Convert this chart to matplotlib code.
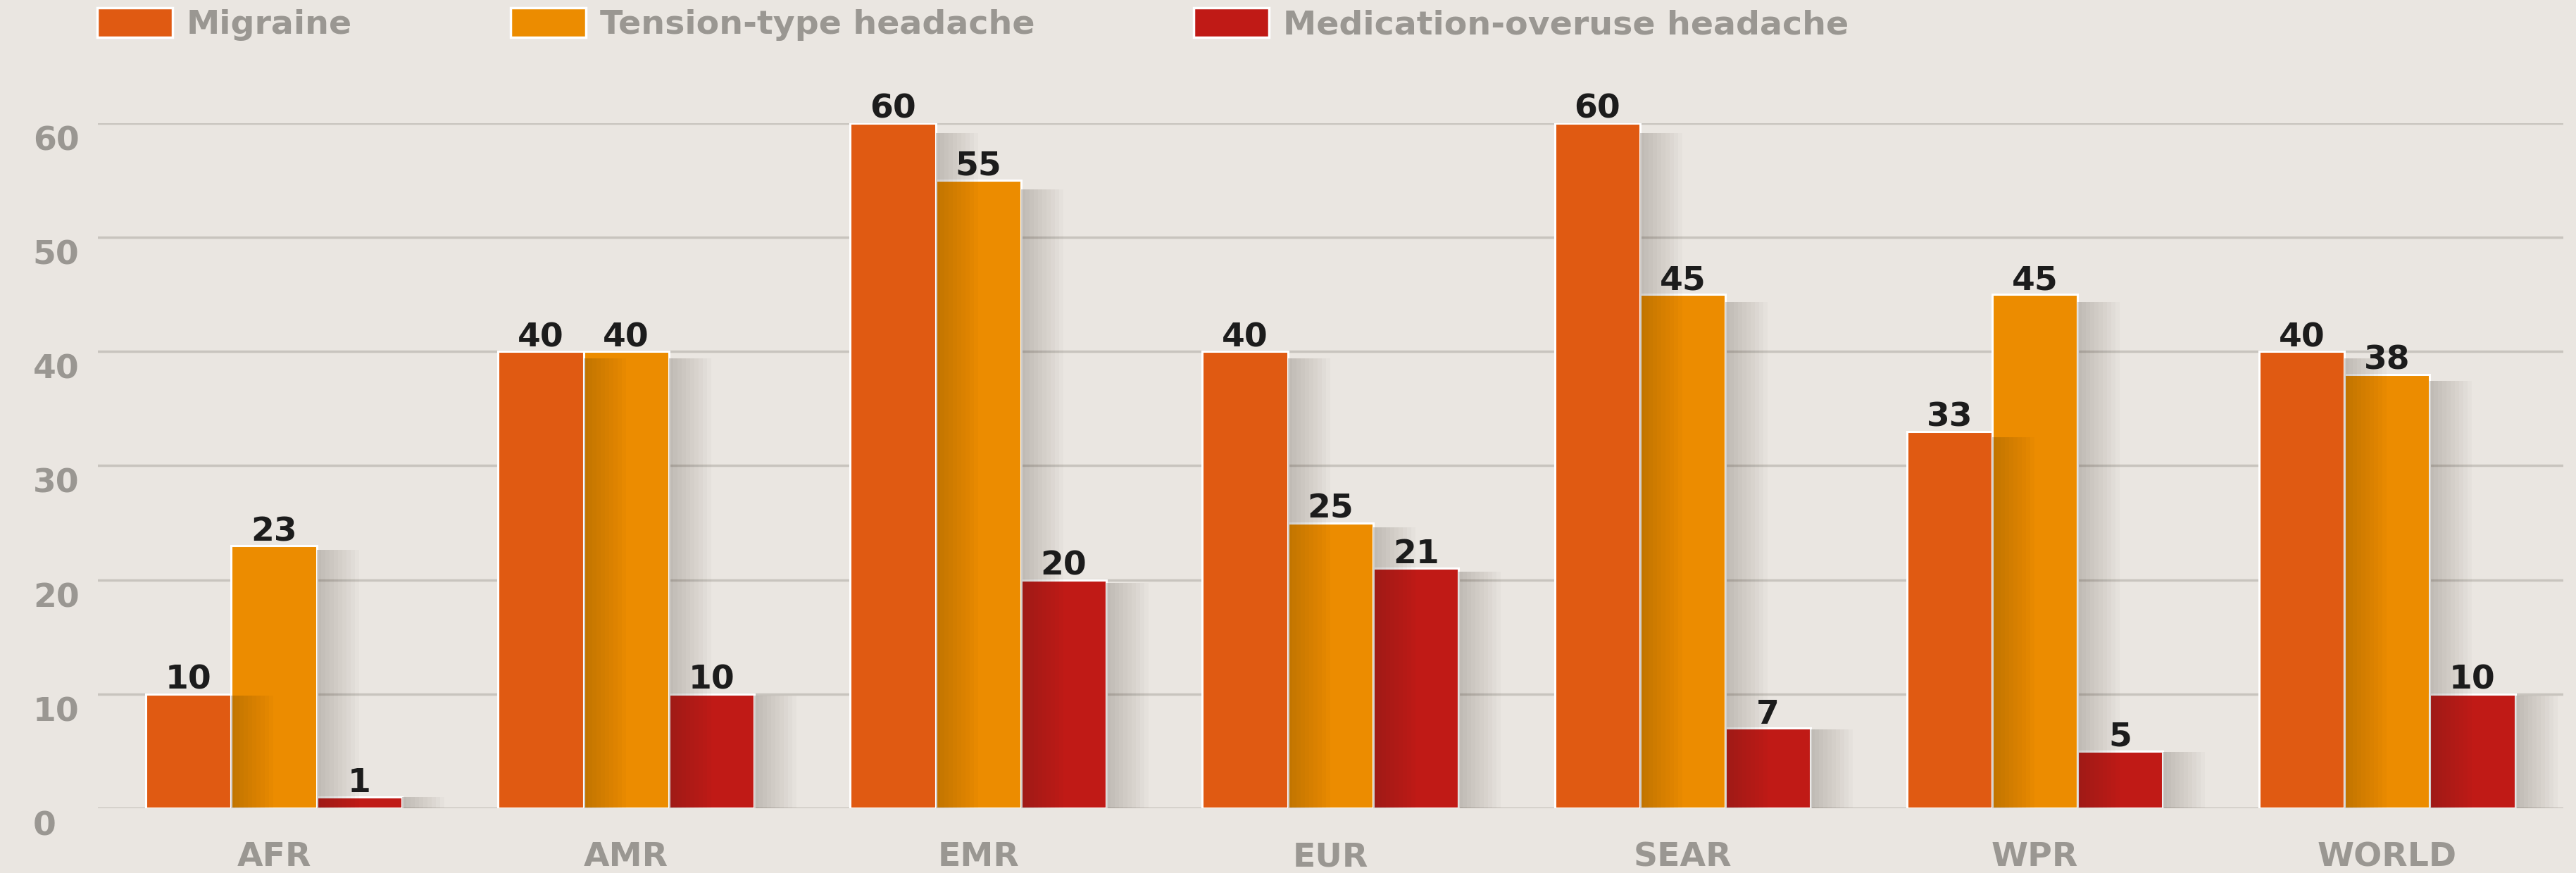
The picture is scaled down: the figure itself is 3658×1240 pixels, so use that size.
import numpy as np
import matplotlib
matplotlib.use("Agg")
import matplotlib.pyplot as plt
from matplotlib.patches import Patch, Rectangle
from matplotlib import transforms

regions = ["AFR", "AMR", "EMR", "EUR", "SEAR", "WPR", "WORLD"]
series_names = ["Migraine", "Tension-type headache", "Medication-overuse headache"]
migraine = [10, 40, 60, 40, 60, 33, 40]
tension = [23, 40, 55, 25, 45, 45, 38]
medication = [1, 10, 20, 21, 7, 5, 10]
yticks = [0, 10, 20, 30, 40, 50, 60]

colors = ["#e05a12", "#ec8c00", "#c01a16"]
bg = "#eae6e1"
grid_col = "#c8c4be"
grey_txt = "#9a9792"

plt.rcParams["font.family"] = ["DejaVu Sans"]
plt.rcParams["font.weight"] = "bold"

fig = plt.figure(figsize=(36.58, 12.4), dpi=100, facecolor=bg)
ax = fig.add_axes([0.038, 0.0742, 0.957, 0.7848])
ax.set_facecolor(bg)
ax.set_xlim(-0.5, 6.5)
ax.set_ylim(0, 60)

x = np.arange(len(regions))
w = 0.2425
data = [migraine, tension, medication]

for i, vals in enumerate(data):
    xs = x + (i - 1) * w
    ax.bar(xs, vals, width=w, color=colors[i], edgecolor="white",
           linewidth=2.2, zorder=3)
    # soft shadow to the right of every bar
    for xi, v in zip(xs, vals):
        for k in range(10):
            ext = 0.012 * (k + 1)
            ax.add_patch(Rectangle((xi + w / 2, 0), ext, v * 0.985,
                                   facecolor="#3a3026", alpha=0.022,
                                   linewidth=0, zorder=3.5))
    for xi, v in zip(xs, vals):
        ax.annotate(str(v), (xi, v), xytext=(0, 5), textcoords="offset points",
                    ha="center", va="baseline", fontsize=34,
                    fontweight="bold", color="#1c1c1c", zorder=5)

for t in yticks:
    ax.axhline(t, color=grid_col, linewidth=2.5, zorder=1)

for s in ax.spines.values():
    s.set_visible(False)

ax.set_yticks([])
ax.set_xticks(x, regions)
ax.tick_params(axis="x", length=0, pad=34, labelsize=34, labelcolor=grey_txt)
for lbl in ax.get_xticklabels():
    lbl.set_fontweight("bold")

trans = transforms.blended_transform_factory(fig.transFigure, ax.transData)
off = transforms.ScaledTranslation(0, -26 / 100, fig.dpi_scale_trans)
for t in yticks:
    fig.text(0.0128, t, str(t), transform=trans + off, ha="left", va="center",
             fontsize=34, fontweight="bold", color=grey_txt)

handles = [Patch(facecolor=c, edgecolor="white", linewidth=2.5) for c in colors]
leg = fig.legend(handles, series_names, loc="upper left",
                 bbox_to_anchor=(0.0273, 1.022), ncol=3, frameon=False,
                 fontsize=34.2, handlelength=2.25, handleheight=1.0,
                 handletextpad=0.42, columnspacing=4.75, borderpad=0.3)
for txt in leg.get_texts():
    txt.set_color(grey_txt)
    txt.set_fontweight("bold")

fig.savefig("out.png", dpi=100, facecolor=bg)
